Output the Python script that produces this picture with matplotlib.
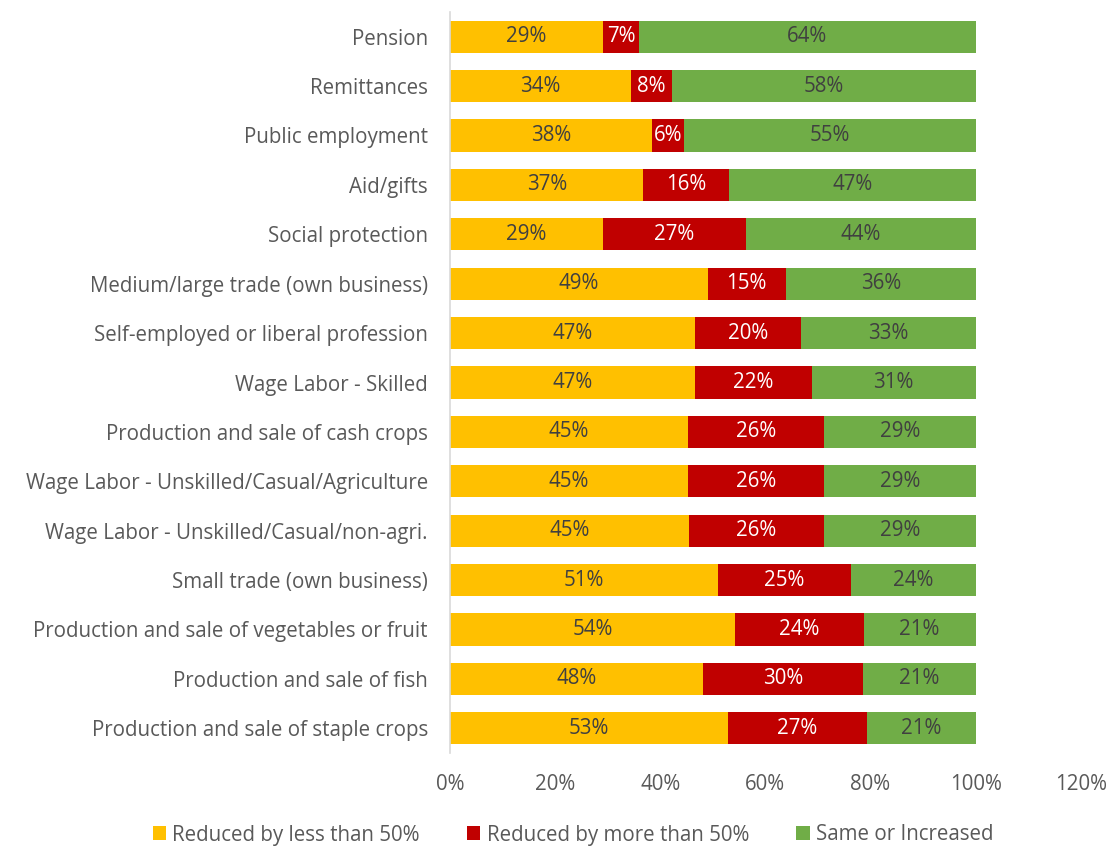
import matplotlib
matplotlib.use("Agg")
import matplotlib.pyplot as plt
import numpy as np
from matplotlib.patches import Patch

categories = [
    "Pension", "Remittances", "Public employment", "Aid/gifts", "Social protection",
    "Medium/large trade (own business)", "Self-employed or liberal profession",
    "Wage Labor - Skilled", "Production and sale of cash crops",
    "Wage Labor - Unskilled/Casual/Agriculture", "Wage Labor - Unskilled/Casual/non-agri.",
    "Small trade (own business)", "Production and sale of vegetables or fruit",
    "Production and sale of fish", "Production and sale of staple crops",
]
reduced_less = [29.1, 34.4, 38.4, 36.8, 29.1, 49.0, 46.6, 46.7, 45.2, 45.2, 45.4, 50.9, 54.3, 48.2, 52.8]
reduced_more = [6.9, 7.8, 6.2, 16.3, 27.2, 14.9, 20.2, 22.1, 25.9, 25.9, 25.7, 25.4, 24.4, 30.4, 26.6]
same_or_inc = [64.0, 57.8, 55.4, 46.9, 43.7, 36.1, 33.2, 31.2, 28.9, 28.9, 28.9, 23.7, 21.3, 21.4, 20.6]
series_names = ["Reduced by less than 50%", "Reduced by more than 50%", "Same or Increased"]
xticks = [0, 20, 40, 60, 80, 100, 120]

colors = ["#FFC000", "#C00000", "#70AD47"]
label_colors = ["#404040", "white", "#404040"]

plt.rcParams['font.family'] = ['Open Sans', 'DejaVu Sans']
FS = 14.8

fig = plt.figure(figsize=(11.10, 8.48), dpi=100)
ax = fig.add_axes([450/1110, 1 - 753/848, (1080.8 - 450)/1110, (753 - 12)/848])

y = np.arange(len(categories))
left = np.zeros(len(categories))
for vals, col, lc in zip([reduced_less, reduced_more, same_or_inc], colors, label_colors):
    vals = np.array(vals)
    ax.barh(y, vals, left=left, height=0.65, color=col, edgecolor='none')
    for yi, l, v in zip(y, left, vals):
        ax.text(l + v / 2, yi, f"{v:.0f}%", ha='center', va='center', color=lc, fontsize=FS)
    left = left + vals

ax.set_ylim(len(categories) - 0.5, -0.5)
ax.set_xlim(0, 120)
ax.set_yticks(y)
ax.set_yticklabels(categories, fontsize=FS, color='#595959')
ax.set_xticks(xticks)
ax.set_xticklabels([f"{t}%" for t in xticks], fontsize=FS, color='#595959')
ax.tick_params(axis='both', length=0)
ax.tick_params(axis='y', pad=16)
ax.tick_params(axis='x', pad=15)
for s in ['top', 'right', 'bottom']:
    ax.spines[s].set_visible(False)
ax.spines['left'].set_color('#D9D9D9')
ax.spines['left'].set_linewidth(1.2)

handles = [Patch(facecolor=c, edgecolor='none') for c in colors]
fig.legend(handles, series_names, loc='center', bbox_to_anchor=(573/1110, 1 - 835/848),
           ncol=3, frameon=False, fontsize=FS, handlelength=0.65, handleheight=0.65,
           handletextpad=0.3, columnspacing=2.3, labelcolor='#595959')

fig.savefig("out.png", dpi=100)
